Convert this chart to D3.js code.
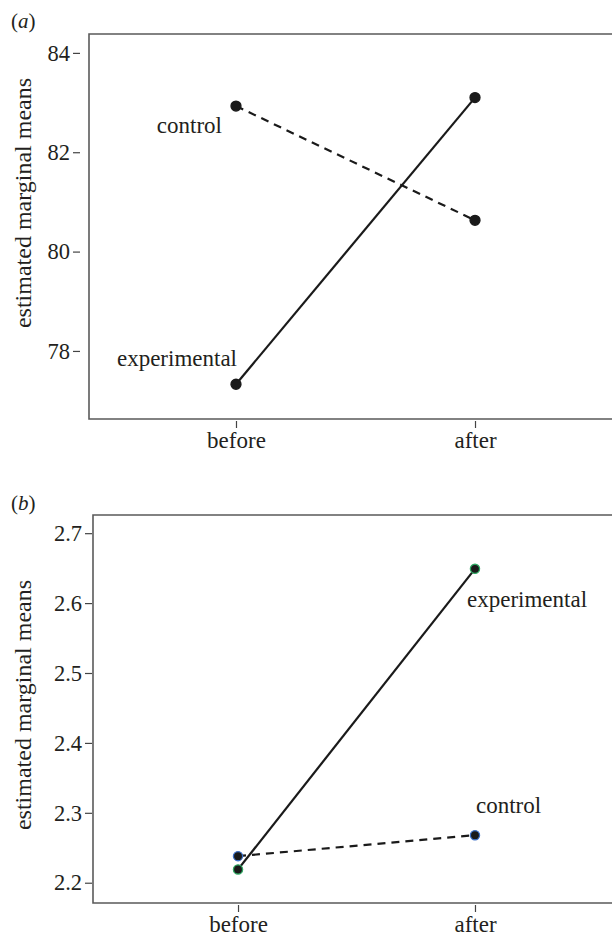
<!DOCTYPE html>
<html><head><meta charset="utf-8">
<script src="https://cdn.jsdelivr.net/npm/d3@7"></script>
<style>body{margin:0;background:#fff}svg{display:block}text{font-family:"Liberation Serif","Times New Roman",serif;fill:#231f20}</style>
</head><body><svg id="c" width="612" height="936"></svg>
<script>
const times = ["before", "after"];
const aControl = [82.93, 80.63];
const aExperimental = [77.33, 83.1];
const aTicks = [78, 80, 82, 84];
const bControl = [2.238, 2.268];
const bExperimental = [2.219, 2.649];
const bTicks = [2.2, 2.3, 2.4, 2.5, 2.6, 2.7];
const yTitle = "estimated marginal means";

const svg = d3.select("#c");

function panel(cfg) {
  const g = svg.append("g");
  const x = d3.scalePoint().domain(times).range([cfg.left, cfg.right]).padding(cfg.pad);
  const y = d3.scaleLinear().domain(cfg.ydom).range([cfg.bottom, cfg.top]);
  g.append("path").attr("d", `M${cfg.right},${cfg.top}H${cfg.left}V${cfg.bottom}H${cfg.right}`)
    .attr("fill", "none").attr("stroke", "#5a5a5a").attr("stroke-width", 1.6);
  const ya = g.append("g").attr("transform", `translate(${cfg.left - cfg.ygap},0)`)
    .call(d3.axisLeft(y).tickValues(cfg.ticks).tickFormat(cfg.fmt).tickSize(7).tickPadding(3));
  ya.select(".domain").remove();
  ya.selectAll("line").attr("stroke", "#444").attr("stroke-width", 1.2);
  ya.selectAll("text").style("font-size", "22.5px").attr("fill", "#231f20");
  const xa = g.append("g").attr("transform", `translate(0,${cfg.bottom + 2})`)
    .call(d3.axisBottom(x).tickSize(7).tickPadding(4));
  xa.select(".domain").remove();
  xa.selectAll("line").attr("stroke", "#444").attr("stroke-width", 1.2);
  xa.selectAll("text").style("font-size", "23px").attr("fill", "#231f20");
  g.append("text").attr("transform", `translate(${cfg.titleX},${cfg.titleY}) rotate(-90)`)
    .attr("text-anchor", "middle").style("font-size", "24px").text(yTitle);
  g.append("text").attr("x", 11).attr("y", cfg.labelY).style("font-size", "21px")
    .html('(<tspan font-style="italic">' + cfg.label + '</tspan>)');
  const line = d3.line().x((d, i) => x(times[i])).y(d => y(d));
  g.append("path").datum(cfg.control).attr("d", line).attr("fill", "none")
    .attr("stroke", "#1a1a1a").attr("stroke-width", 2.2).attr("stroke-dasharray", "8,6");
  g.append("path").datum(cfg.exp).attr("d", line).attr("fill", "none")
    .attr("stroke", "#1a1a1a").attr("stroke-width", 2.2);
  [[cfg.control, cfg.cStroke], [cfg.exp, cfg.eStroke]].forEach(([vals, st]) => {
    g.selectAll(null).data(vals).enter().append("circle")
      .attr("cx", (d, i) => x(times[i])).attr("cy", d => y(d)).attr("r", cfg.r)
      .attr("fill", "#1a1a1a").attr("stroke", st).attr("stroke-width", 1.3);
  });
  cfg.labels.forEach(l => {
    g.append("text").attr("x", x(times[l.i]) + l.dx).attr("y", y(l.v) + l.dy)
      .attr("text-anchor", l.anchor).style("font-size", "23px").text(l.t);
  });
}

panel({
  left: 89, right: 622, top: 34, bottom: 419, pad: 0.615, ydom: [76.63, 84.38],
  ticks: aTicks, fmt: d3.format("d"), ygap: 9, titleX: 31, titleY: 203, labelY: 28, label: "a",
  control: aControl, exp: aExperimental, r: 5, cStroke: "#1a1a1a", eStroke: "#1a1a1a",
  labels: [
    {t: "control", i: 0, v: aControl[0], dx: -14, dy: 27, anchor: "end"},
    {t: "experimental", i: 0, v: aExperimental[0], dx: 1, dy: -18, anchor: "end"}
  ]
});

panel({
  left: 93, right: 620, top: 515, bottom: 903, pad: 0.612, ydom: [2.171, 2.726],
  ticks: bTicks, fmt: d3.format(".1f"), ygap: 1, titleX: 31, titleY: 705, labelY: 510, label: "b",
  control: bControl, exp: bExperimental, r: 4.6, cStroke: "#3b6fc6", eStroke: "#2fa862",
  labels: [
    {t: "control", i: 1, v: bControl[1], dx: 1, dy: -22, anchor: "start"},
    {t: "experimental", i: 1, v: bExperimental[1], dx: -8, dy: 38, anchor: "start"}
  ]
});
</script></body></html>
